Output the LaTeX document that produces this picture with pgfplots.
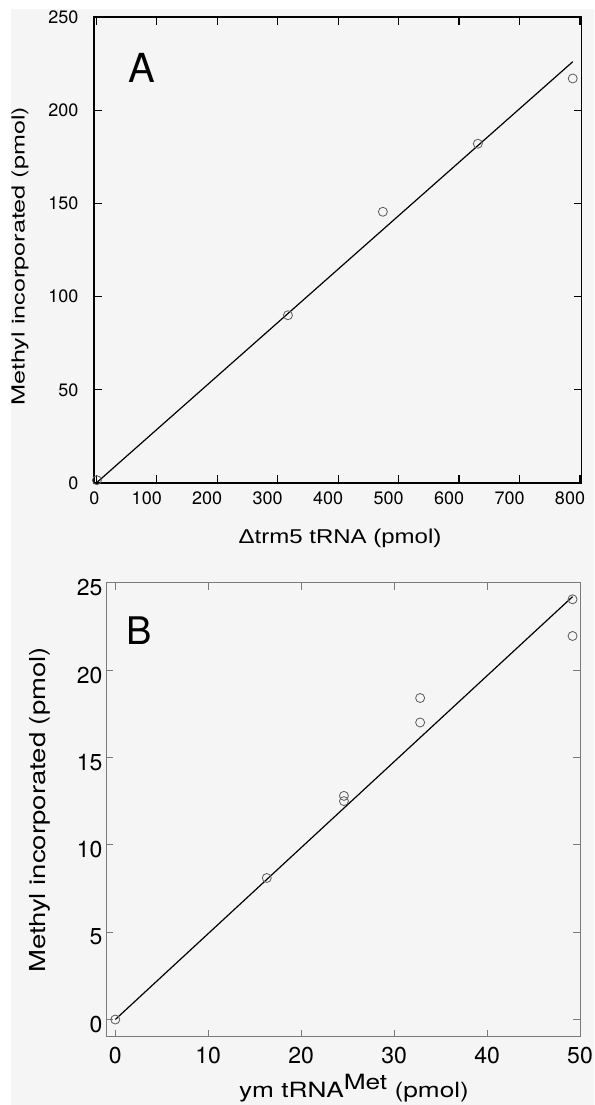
\documentclass[border=0pt]{standalone}
\usepackage{fontspec}
\setmainfont{TeX Gyre Heros}
\newfontfamily\wideA[FakeStretch=1.4]{TeX Gyre Heros}
\newfontfamily\wideAL[FakeStretch=1.2]{Liberation Sans}
\newfontfamily\wideB[FakeStretch=1.25]{TeX Gyre Heros}
\usepackage{pgfplots}
\pgfplotsset{compat=1.18}
\definecolor{bg}{HTML}{F5F5F5}
\definecolor{mk}{HTML}{5A5A5A}
\definecolor{axB}{HTML}{7A7A7A}
\begin{document}
\begin{tikzpicture}
\path[use as bounding box] (0pt,0pt) rectangle (594pt,1105pt);
\fill[white] (0pt,0pt) rectangle (594pt,1105pt);
\fill[bg] (11pt,0pt) rectangle (594pt,1096pt);
% ---------------- Panel A ----------------
\begin{axis}[at={(94pt,622pt)}, anchor=south west, scale only axis,
  width=487.7pt, height=466pt,
  xmin=-3.8, xmax=802.8, ymin=0, ymax=250,
  xtick={0,100,200,300,400,500,600,700,800},
  xticklabels={{\hspace*{16pt}0},100,200,300,400,500,600,700,800},
  ytick={0,50,100,150,200,250},
  tick align=inside, xtick pos=both, ytick pos=both,
  xticklabel pos=bottom, yticklabel pos=left,
  major tick length=8pt,
  axis line style={line width=1.3pt, black},
  tick style={line width=1.2pt, black},
  ticklabel style={font=\fontsize{18}{18}\selectfont},
  xticklabel style={yshift=-5pt, xshift=-10pt},
  yticklabel style={xshift=-12pt},
  /pgf/number format/assume math mode=true,
  clip=false, axis background/.style={fill=bg}]
\addplot[black, line width=1.2pt] coordinates {(0,0) (788,226)};
\addplot[only marks, mark=o, mark size=4.5pt, mark options={draw=mk, line width=0.8pt}]
  coordinates {(1,1.5) (317,90) (474,145.5) (631,182) (788,217)};
\end{axis}
\node[font=\fontsize{40}{40}\selectfont] at (141.5pt,1037.5pt) {A};
\node[rotate=90, font=\wideA\fontsize{18}{18}\selectfont] at (20pt,849pt) {Methyl incorporated (pmol)};
\node[font=\wideAL\fontsize{20}{20}\selectfont] at (340pt,567pt) {Δtrm5 tRNA (pmol)};
% ---------------- Panel B ----------------
\begin{axis}[at={(106pt,68pt)}, anchor=south west, scale only axis,
  width=474pt, height=454.3pt,
  xmin=-1, xmax=50, ymin=-1, ymax=25,
  xtick={0,10,20,30,40,50},
  ytick={0,5,10,15,20,25},
  tick align=inside, xtick pos=both, ytick pos=both,
  xticklabel pos=bottom, yticklabel pos=left,
  major tick length=7pt,
  axis line style={line width=1pt, axB},
  tick style={line width=1pt, axB},
  ticklabel style={font=\fontsize{23}{23}\selectfont},
  xticklabel style={yshift=-7pt},
  yticklabel style={yshift=-5pt, xshift=0pt},
  /pgf/number format/assume math mode=true,
  clip=false, axis background/.style={fill=bg}]
\addplot[black, line width=1.2pt] coordinates {(0,0) (49.2,24.2)};
\addplot[only marks, mark=o, mark size=4.5pt, mark options={draw=mk, line width=0.8pt}]
  coordinates {(0,0) (16.3,8.1) (24.6,12.8) (24.6,12.5) (32.8,18.4) (32.8,17.0) (49.2,24.05) (49.2,21.95)};
\end{axis}
\node[font=\fontsize{38}{38}\selectfont] at (139.5pt,474.5pt) {B};
\node[rotate=90, font=\wideB\fontsize{22}{22}\selectfont] at (40pt,295pt) {Methyl incorporated (pmol)};
\node[font=\wideB\fontsize{21}{21}\selectfont, anchor=base] at (354pt,7pt) {ym tRNA\raisebox{8pt}{Met} (pmol)};
\end{tikzpicture}
\end{document}
